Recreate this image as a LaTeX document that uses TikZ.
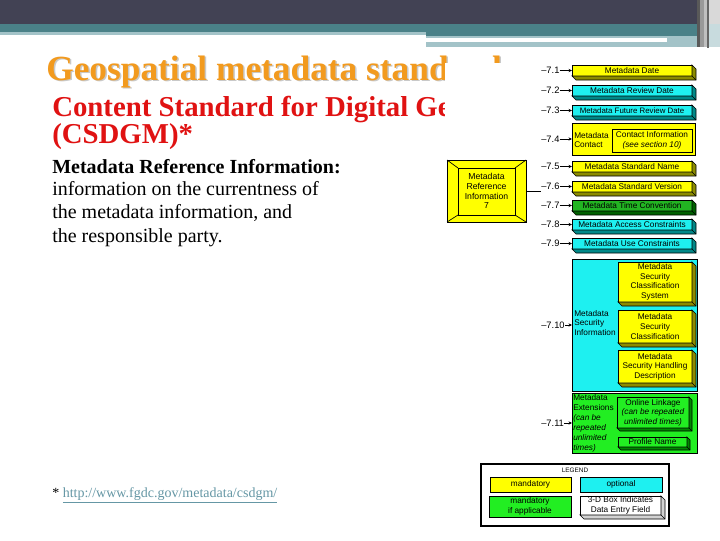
\documentclass[tikz,border=0pt]{standalone}
\usepackage{fontspec}
\setmainfont{Liberation Serif}
\setsansfont{Liberation Sans}
\newfontfamily\dgfont{Liberation Sans}
\usetikzlibrary{arrows.meta,calc}
\definecolor{hdark}{HTML}{424254}
\definecolor{tealA}{HTML}{4A8188}
\definecolor{tealB}{HTML}{A3C3C8}
\definecolor{ttl}{HTML}{F29A1E}
\definecolor{ttlS}{HTML}{C9C9C9}
\definecolor{redt}{HTML}{E01212}
\definecolor{yel}{HTML}{FFFF00}
\definecolor{yelS}{HTML}{8C8C00}
\definecolor{cya}{HTML}{1EF0F0}
\definecolor{cyaS}{HTML}{008888}
\definecolor{grnD}{HTML}{22B422}
\definecolor{grnDS}{HTML}{006000}
\definecolor{grn}{HTML}{22EE22}
\definecolor{grnS}{HTML}{008800}
\definecolor{lnk}{HTML}{6597A5}
\newcommand\bx[7]{\node[#6, minimum width={(#4-#2)*0.75pt}, minimum height={(#5-#3)*0.75pt}] (#1) at ({(#2+#4)/2},{(#3+#5)/2}) {#7};}
\newcommand\ext[3]{\draw[line width=0.5pt, fill=#2] (#1.north east) -- ++(#3,#3) -- ($(#1.south east)+(#3,#3)$) -- ($(#1.south west)+(#3,#3)$) -- (#1.south west) -- (#1.south east) -- cycle; \draw[line width=0.5pt] (#1.south east) -- ++(#3,#3);}
\tikzset{
  box/.style={draw, line width=0.5pt, inner sep=0pt, outer sep=0pt, font=\dgfont\fontsize{6.2}{7.2}\selectfont, align=center},
  lbl/.style={font=\dgfont\fontsize{7}{8}\selectfont, inner sep=0pt, anchor=west},
  sidetxt/.style={font=\dgfont\fontsize{6.2}{7.2}\selectfont, inner sep=0pt, anchor=west, align=left},
  arr/.style={-{Stealth[length=2.6pt,width=2.4pt]}, line width=0.5pt},
  bodytxt/.style={anchor=base west, inner sep=0pt, font=\fontsize{15}{18}\selectfont},
}
\begin{document}
\begin{tikzpicture}[x=0.75pt,y=-0.75pt]
\useasboundingbox (0,0) rectangle (720,540);
\fill[white] (0,0) rectangle (720,540);
% header
\fill[hdark] (0,0) rectangle (720,24);
\fill[tealA] (0,24) rectangle (426,31.5);
\fill[tealB] (0,31.5) rectangle (426,35);
\fill[tealA] (426,24) rectangle (700,36);
\fill[tealB] (426,36) rectangle (700,47);
\fill[white] (426,38) rectangle (667,41.5);
\fill[white] (580,47) rectangle (700,63);
\fill[gray!45] (697,0) rectangle (720,47);
\fill[black!65] (697,0) rectangle (700,47);
\fill[black!40] (700,0) rectangle (704,47);
\fill[black!25] (704,0) rectangle (707,47);
\fill[black!60] (707,0) rectangle (709,48);
\fill[gray!30] (709,0) rectangle (720,24);
\fill[tealB!60] (709,24) rectangle (720,47);
% title
\node[anchor=base west, inner sep=0pt, text=ttlS, font=\fontsize{26.5}{30}\selectfont\bfseries] (ttlshadow) at (47.5,81.5) {Geospatial metadata standards};
\node[anchor=base west, inner sep=0pt, text=ttl, font=\fontsize{26.5}{30}\selectfont\bfseries] (title) at (46,80) {Geospatial metadata standards};
\node[anchor=base west, inner sep=0pt, text=redt, font=\fontsize{21.6}{26}\selectfont\bfseries] (sub1) at (52,116) {Content Standard for Digital Geo};
\node[anchor=base west, inner sep=0pt, text=redt, font=\fontsize{21.6}{26}\selectfont\bfseries] (sub2) at (52,143) {(CSDGM)*};
% white background of the diagram picture
\fill[white] (445,63) rectangle (697,535);
% body text
\node[bodytxt, font=\fontsize{15}{18}\selectfont\bfseries] (h1) at (52,173) {Metadata Reference Information:};
\node[bodytxt] (p1) at (52,195) {information on the currentness of};
\node[bodytxt] (p2) at (52,218) {the metadata information, and};
\node[bodytxt] (p3) at (52,242) {the responsible party.};
\node[anchor=base west, inner sep=0pt, font=\fontsize{10.5}{12}\selectfont] (fn) at (52,497) {* \textcolor{lnk}{\underline{http://www.fgdc.gov/metadata/csdgm/}}};
% reference box
\bx{ref}{447}{160}{526}{222}{box, fill=yel, line width=0.6pt}{}
\draw[line width=0.5pt] (458,168) rectangle (515,215);
\draw[line width=0.5pt] (ref.north west) -- (458,168) (ref.north east) -- (515,168) (ref.south west) -- (458,215) (ref.south east) -- (515,215);
\node[font=\dgfont\fontsize{6.5}{7.3}\selectfont, align=center, inner sep=0pt] (reft) at (486.5,191) {Metadata\\Reference\\Information\\7};
% rows
\bx{b71}{572}{65}{692}{76}{box, fill=yel}{Metadata Date} \ext{b71}{yelS}{4}
\node[lbl] (l71) at (541,70.5) {–7.1}; \draw[arr] (l71) -- (b71);
\bx{b72}{572}{85}{692}{96}{box, fill=cya}{Metadata Review Date} \ext{b72}{cyaS}{4}
\node[lbl] (l72) at (541,90.5) {–7.2}; \draw[arr] (l72) -- (b72);
\bx{b73}{572}{105}{692}{116}{box, fill=cya, font=\dgfont\fontsize{5.9}{7}\selectfont}{Metadata Future Review Date} \ext{b73}{cyaS}{4}
\node[lbl] (l73) at (541,110.5) {–7.3}; \draw[arr] (l73) -- (b73);
\bx{b74}{572}{123}{695}{155}{box, fill=yel}{}
\node[sidetxt] (t74) at (574,140) {Metadata\\Contact};
\bx{c74}{612}{129}{692}{152}{box, fill=yel}{Contact Information\\\textit{(see section 10)}}
\node[lbl] (l74) at (541,139) {–7.4}; \draw[arr] (l74) -- (b74);
\bx{b75}{572}{161}{692}{172}{box, fill=yel}{Metadata Standard Name} \ext{b75}{yelS}{4}
\node[lbl] (l75) at (541,166.5) {–7.5}; \draw[arr] (l75) -- (b75);
\bx{b76}{572}{181}{692}{192}{box, fill=yel}{Metadata Standard Version} \ext{b76}{yelS}{4}
\node[lbl] (l76) at (541,186.5) {–7.6}; \draw[arr] (l76) -- (b76);
\bx{b77}{572}{200}{692}{211}{box, fill=grnD}{Metadata Time Convention} \ext{b77}{grnDS}{4}
\node[lbl] (l77) at (541,205.5) {–7.7}; \draw[arr] (l77) -- (b77);
\bx{b78}{572}{219}{692}{230}{box, fill=cya}{Metadata Access Constraints} \ext{b78}{cyaS}{4}
\node[lbl] (l78) at (541,224.5) {–7.8}; \draw[arr] (l78) -- (b78);
\bx{b79}{572}{238}{692}{249}{box, fill=cya}{Metadata Use Constraints} \ext{b79}{cyaS}{4}
\node[lbl] (l79) at (541,243.5) {–7.9}; \draw[arr] (l79) -- (b79);
% 7.10
\bx{b710}{572}{259}{697}{391}{box, fill=cya}{}
\node[sidetxt] (t710) at (574,323) {Metadata\\Security\\Information};
\bx{s1}{618}{262}{692}{302}{box, fill=yel}{Metadata\\Security\\Classification\\System} \ext{s1}{yelS}{4}
\bx{s2}{618}{310}{692}{343}{box, fill=yel}{Metadata\\Security\\Classification} \ext{s2}{yelS}{4}
\bx{s3}{618}{350}{692}{383}{box, fill=yel}{Metadata\\Security Handling\\Description} \ext{s3}{yelS}{4}
\node[lbl] (l710) at (541,325) {–7.10}; \draw[arr] (l710) -- (b710);
% 7.11
\bx{b711}{572}{393}{697}{453}{box, fill=grn}{}
\node[sidetxt, font=\dgfont\fontsize{6.2}{7.5}\selectfont] (t711) at (573,423) {Metadata\\Extensions\\\textit{(can be}\\\textit{repeated}\\\textit{unlimited}\\\textit{times)}};
\bx{e1}{617}{397}{689}{428}{box, fill=grn}{Online Linkage\\\textit{(can be repeated}\\\textit{unlimited times)}} \ext{e1}{grnS}{3}
\bx{e2}{618}{437}{687}{447}{box, fill=grn}{Profile Name} \ext{e2}{grnS}{3}
\node[lbl] (l711) at (541,423) {–7.11}; \draw[arr] (l711) -- (b711);
% connector from reference box
\draw[line width=0.5pt] (ref.east) -- (ref.east -| l76.west);
% legend
\bx{leg}{481}{464}{669}{526}{draw, line width=1.1pt, inner sep=0pt, outer sep=0pt}{}
\node[font=\dgfont\fontsize{4.8}{5}\selectfont, inner sep=0pt] (legt) at (575,470) {LEGEND};
\bx{lg1}{490}{477}{571}{492}{box, fill=yel}{mandatory}
\bx{lg2}{580}{477}{662}{492}{box, fill=cya}{optional}
\bx{lg3}{489}{496}{571}{517}{box, fill=grn}{mandatory\\if applicable}
\bx{lg4}{580}{496}{661}{515}{box, fill=white}{3-D Box Indicates\\Data Entry Field} \ext{lg4}{gray!35}{4}
\end{tikzpicture}
\end{document}
